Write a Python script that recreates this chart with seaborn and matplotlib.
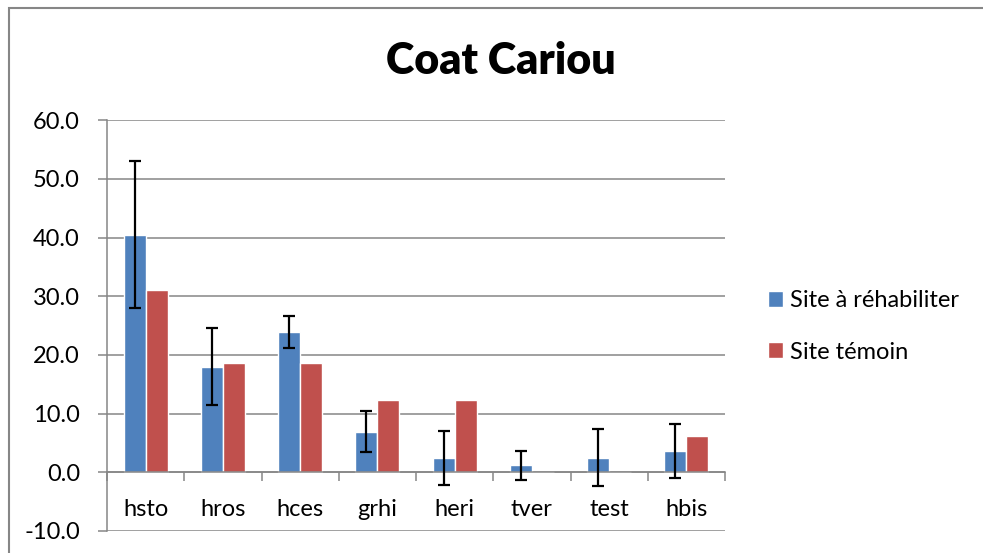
import numpy as np
import pandas as pd
import matplotlib
matplotlib.use("Agg")
import matplotlib.pyplot as plt
import seaborn as sns
from matplotlib.patches import Rectangle

# data
categories = ["hsto", "hros", "hces", "grhi", "heri", "tver", "test", "hbis"]
site_rehab = [40.5, 18.0, 23.9, 6.9, 2.4, 1.2, 2.5, 3.7]
site_rehab_err = [12.5, 6.5, 2.8, 3.5, 4.6, 2.5, 4.9, 4.6]
site_temoin = [31.1, 18.6, 18.6, 12.4, 12.4, 0.0, 0.0, 6.1]
series_names = ["Site à réhabiliter", "Site témoin"]
y_ticks = [-10, 0, 10, 20, 30, 40, 50, 60]

df = pd.DataFrame({
    "cat": categories * 2,
    "value": site_rehab + site_temoin,
    "serie": [series_names[0]] * len(categories) + [series_names[1]] * len(categories),
})

sns.set_theme(style="white")
plt.rcParams["font.family"] = ["Lato", "DejaVu Sans"]
plt.rcParams["text.color"] = "black"

grey = "#868686"
fs = 17
fig = plt.figure(figsize=(9.83, 5.53), dpi=100)
ax = fig.add_axes([0.1089, 0.0398, 0.6287, 0.743])

sns.barplot(data=df, x="cat", y="value", hue="serie", order=categories,
            hue_order=series_names, palette=["#4F81BD", "#C0504D"],
            width=0.57, errorbar=None, ax=ax, saturation=1, legend=True)

# error bars on the first series only
for bar, err in zip(ax.containers[0], site_rehab_err):
    xc = bar.get_x() + bar.get_width() / 2
    ax.errorbar(xc, bar.get_height(), yerr=err, fmt="none", ecolor="black",
                elinewidth=1.6, capsize=4.2, capthick=1.6, zorder=5)

ax.set_ylim(-10, 60)
ax.set_xlim(-0.5, len(categories) - 0.5)
ax.set_yticks(y_ticks)
ax.set_yticklabels([f"{v:.1f}" for v in y_ticks])
ax.set_xticks(range(len(categories)))
ax.set_xticklabels(categories)
ax.set_xticks(np.arange(-0.5, len(categories)), minor=True)
ax.tick_params(axis="x", which="major", length=0, pad=19, labelcolor="black", labelsize=fs)
ax.tick_params(axis="x", which="minor", bottom=True, length=6.5, width=1.1, color=grey)
ax.tick_params(axis="y", left=True, length=6.5, width=1.1, color=grey, pad=13,
               labelcolor="black", labelsize=fs)
ax.set_xlabel("")
ax.set_ylabel("")

ax.grid(axis="y", color=grey, linewidth=1.1)
ax.set_axisbelow(True)
for s in ["top", "right"]:
    ax.spines[s].set_visible(False)
ax.spines["left"].set_color(grey)
ax.spines["left"].set_linewidth(1.1)
ax.spines["bottom"].set_position(("data", 0))
ax.spines["bottom"].set_color(grey)
ax.spines["bottom"].set_linewidth(1.1)

handles, labels = ax.get_legend_handles_labels()
ax.legend_.remove()
fig.legend(handles, labels, loc="center left", bbox_to_anchor=(0.781, 0.41),
           frameon=False, fontsize=fs, handlelength=0.65, handleheight=0.65,
           handletextpad=0.3, labelspacing=1.3, borderaxespad=0, borderpad=0,
           labelcolor="black")

fig.text(0.51, 0.89, "Coat Cariou", ha="center", va="center",
         fontsize=31, fontweight="heavy", color="black")

# chart area border
fig.patches.append(Rectangle((9 / 983, -0.1), 1.2, 1.1 - 8 / 553,
                             transform=fig.transFigure, fill=False,
                             edgecolor=grey, linewidth=1.5))

fig.savefig("out.png", dpi=100)
